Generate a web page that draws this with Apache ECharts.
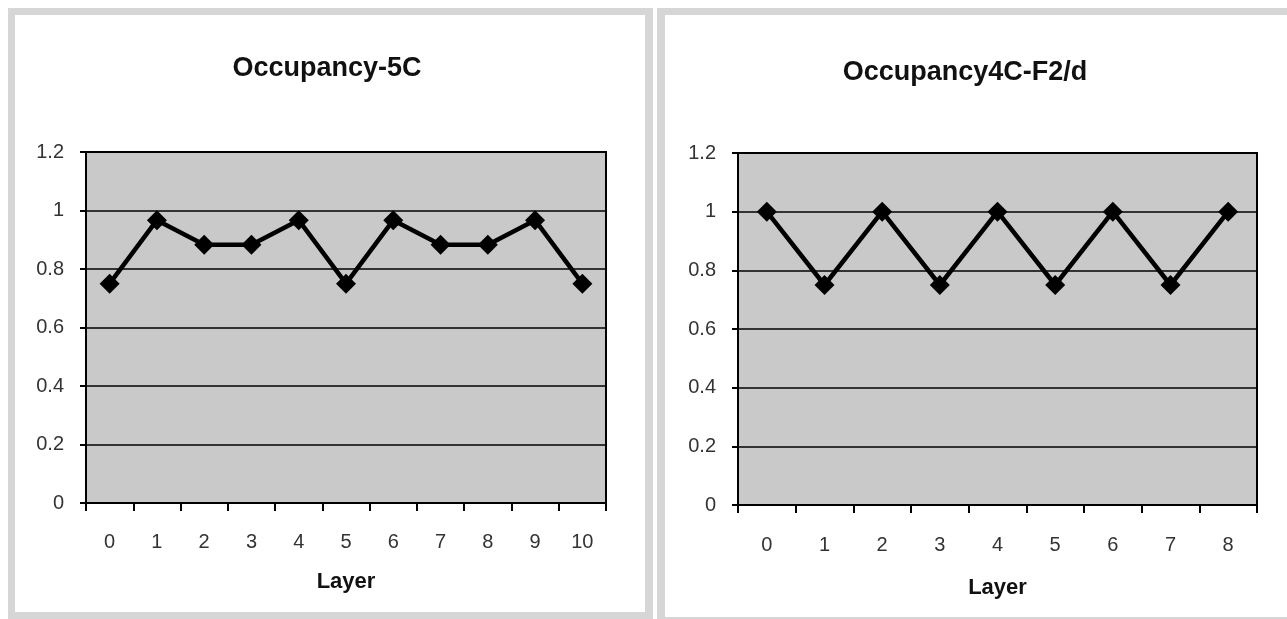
<!DOCTYPE html>
<html>
<head>
<meta charset="utf-8">
<script src="https://cdn.jsdelivr.net/npm/echarts@6/dist/echarts.min.js"></script>
<style>
html,body{margin:0;padding:0;background:#fff;}
#c{width:1287px;height:619px;}
</style>
</head>
<body>
<div id="c"></div>
<script>
const layersA = ['0','1','2','3','4','5','6','7','8','9','10'];
const occA = [0.75, 0.967, 0.883, 0.883, 0.967, 0.75, 0.967, 0.883, 0.883, 0.967, 0.75];
const layersB = ['0','1','2','3','4','5','6','7','8'];
const occB = [1, 0.75, 1, 0.75, 1, 0.75, 1, 0.75, 1];
const titleA = 'Occupancy-5C';
const titleB = 'Occupancy4C-F2/d';
const xName = 'Layer';
const yMin = 0, yMax = 1.2, yStep = 0.2;

const chart = echarts.init(document.getElementById('c'));
const font = 'Liberation Sans, Arial, sans-serif';
const frame = '#d6d6d6';

function xAxis(idx, data, margin, gap) {
  return {
    type: 'category', gridIndex: idx, data: data, boundaryGap: true,
    axisLine: {show: true, lineStyle: {color: '#000', width: 2}},
    axisTick: {show: true, inside: false, length: 8, alignWithLabel: false, lineStyle: {color: '#000', width: 2}},
    axisLabel: {color: '#333', fontSize: 20, fontFamily: font, margin: margin, interval: 0},
    name: xName, nameLocation: 'middle', nameGap: gap,
    nameTextStyle: {color: '#111', fontSize: 22, fontWeight: 'bold', fontFamily: font},
    splitLine: {show: false}
  };
}
function yAxis(idx) {
  return {
    type: 'value', gridIndex: idx, min: yMin, max: yMax, interval: yStep,
    axisLine: {show: true, lineStyle: {color: '#000', width: 2}},
    axisTick: {show: true, inside: false, length: 6, lineStyle: {color: '#000', width: 2}},
    axisLabel: {color: '#333', fontSize: 20, fontFamily: font, margin: 22,
      formatter: v => String(+v.toFixed(1))},
    splitLine: {show: true, lineStyle: {color: '#000', width: 1.5}}
  };
}
function series(idx, data) {
  return {
    type: 'line', xAxisIndex: idx, yAxisIndex: idx, data: data,
    symbol: 'diamond', symbolSize: 20, showSymbol: true,
    lineStyle: {color: '#000', width: 4.5},
    itemStyle: {color: '#000'},
    animation: false, z: 5
  };
}

chart.setOption({
  animation: false,
  backgroundColor: '#fff',
  graphic: [
    {type: 'rect', z: -10, shape: {x: 8, y: 8, width: 645, height: 611}, style: {fill: frame}},
    {type: 'rect', z: -9, shape: {x: 15, y: 15, width: 630, height: 597}, style: {fill: '#fff'}},
    {type: 'rect', z: -10, shape: {x: 657, y: 8, width: 640, height: 611}, style: {fill: frame}},
    {type: 'rect', z: -9, shape: {x: 665, y: 15, width: 630, height: 602}, style: {fill: '#fff'}}
  ],
  title: [
    {text: titleA, left: 322, top: 50, textAlign: 'center',
     textStyle: {fontSize: 27, fontWeight: 'bold', color: '#111', fontFamily: font}},
    {text: titleB, left: 960, top: 54, textAlign: 'center',
     textStyle: {fontSize: 27, fontWeight: 'bold', color: '#111', fontFamily: font}}
  ],
  grid: [
    {left: 86, top: 152, width: 520, height: 351, show: true,
     backgroundColor: '#c9c9c9', borderColor: '#000', borderWidth: 2},
    {left: 738, top: 153, width: 519, height: 352, show: true,
     backgroundColor: '#c9c9c9', borderColor: '#000', borderWidth: 2}
  ],
  xAxis: [xAxis(0, layersA, 29, 68), xAxis(1, layersB, 30, 72)],
  yAxis: [yAxis(0), yAxis(1)],
  series: [series(0, occA), series(1, occB)]
});
</script>
</body>
</html>
